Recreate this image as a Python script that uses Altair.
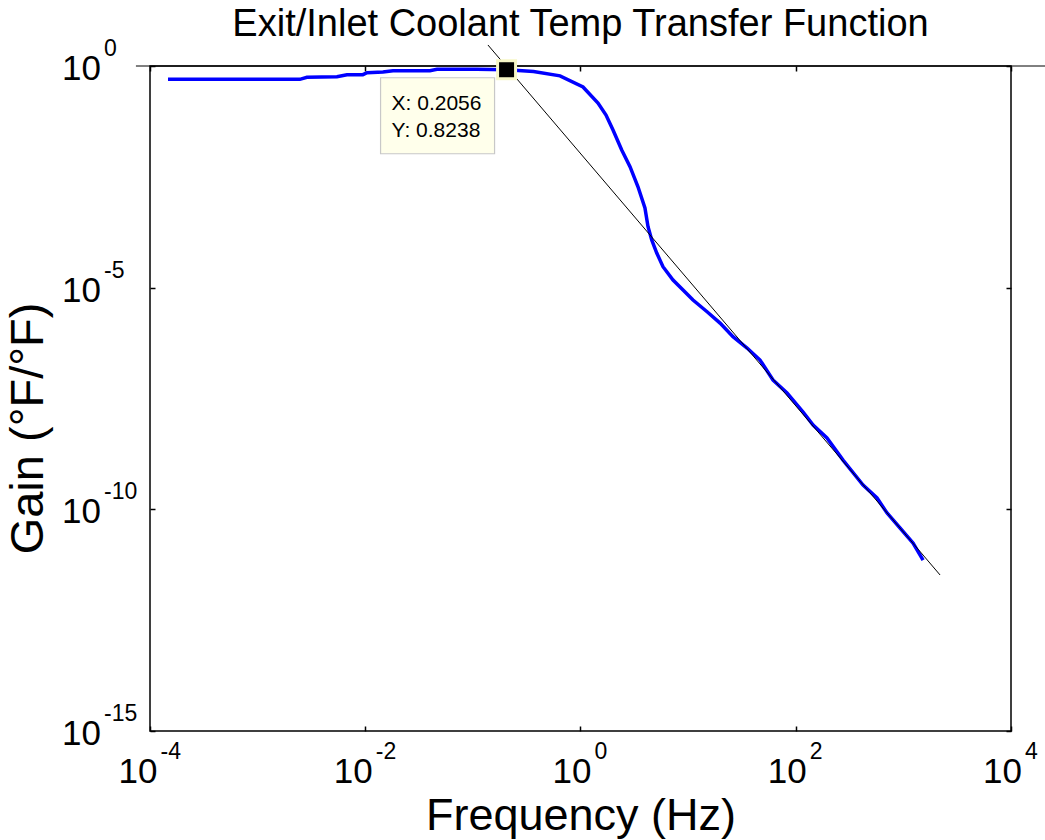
import altair as alt
import pandas as pd

# ---- data ----
freq_hz = [1.47e-4, 2.47e-3, 2.87e-3, 5.46e-3, 6.76e-3, 9.5e-3, 1.04e-2, 1.46e-2,
           1.81e-2, 3.99e-2, 4.64e-2, 0.109, 0.2056, 0.244, 0.366, 0.645, 1.055,
           1.454, 1.726, 2.005, 2.415, 2.884, 3.42, 3.97, 4.24, 4.59, 5.11, 5.84,
           7.24, 8.97, 11.1, 15.0, 19.8, 26.1, 35.3, 46.6, 61.5, 83.0, 117.0,
           145.0, 195.0, 275.0, 422.0, 569.0, 705.0, 931.0, 1230.0, 1524.0]
gain = [0.50, 0.50, 0.556, 0.574, 0.637, 0.637, 0.706, 0.732, 0.783, 0.783, 0.842,
        0.842, 0.8238, 0.80, 0.75, 0.60, 0.336, 0.146, 0.0785, 0.036, 0.01274,
        5.35e-3, 1.89e-3, 6.26e-4, 2.37e-4, 1.19e-4, 6.05e-5, 2.97e-5, 1.49e-5,
        8.85e-6, 5.26e-6, 2.86e-6, 1.59e-6, 7.82e-7, 4.35e-7, 2.33e-7, 8.26e-8,
        4.20e-8, 1.57e-8, 7.97e-9, 4.06e-9, 1.29e-9, 3.53e-10, 1.80e-10, 8.26e-11,
        3.79e-11, 1.74e-11, 7.18e-12]

asym_freq = [0.138, 2193.0]
asym_gain = [2.98, 3.3e-12]

unity_freq = [7.4e-5, 2.2e4]
unity_gain = [1.0, 1.0]

tip_x = [0.2056]
tip_y = [0.8238]
tip_text = ["X: 0.2056\nY: 0.8238"]

x_tick_values = [1e-4, 1e-2, 1e0, 1e2, 1e4]
x_tick_exps = ["-4", "-2", "0", "2", "4"]
y_tick_values = [1e0, 1e-5, 1e-10, 1e-15]
y_tick_exps = ["0", "-5", "-10", "-15"]

title_text = "Exit/Inlet Coolant Temp Transfer Function"
x_title = "Frequency (Hz)"
y_title = "Gain (°F/°F)"

# ---- tables ----
curve_df = pd.DataFrame({"f": freq_hz, "g": gain, "i": range(len(freq_hz))})
asym_df = pd.DataFrame({"f": asym_freq, "g": asym_gain})
unity_df = pd.DataFrame({"f": unity_freq, "g": unity_gain})
tip_df = pd.DataFrame({"f": tip_x, "g": tip_y, "t": tip_text})
xt_df = pd.DataFrame({"v": x_tick_values, "e": x_tick_exps, "b": ["10"] * len(x_tick_values)})
yt_df = pd.DataFrame({"v": y_tick_values, "e": y_tick_exps, "b": ["10"] * len(y_tick_values)})
title_df = pd.DataFrame({"t": [title_text]})

W, H = 861, 665
FONT = "Liberation Sans"

xscale = alt.Scale(type="log", domain=[1e-4, 1e4], nice=False)
yscale = alt.Scale(type="log", domain=[1e-15, 1e0], nice=False)

tick_axis = dict(labels=False, domain=False, grid=False, tickSize=5, offset=-5,
                 tickColor="black", tickWidth=1.5)

x_bottom = alt.Axis(orient="bottom", values=x_tick_values, title=x_title,
                    titleFont=FONT, titleFontSize=45, titleFontWeight="normal",
                    titleX=W / 2, titleY=103, titleBaseline="alphabetic",
                    titleAlign="center", titleColor="black", **tick_axis)
y_left = alt.Axis(orient="left", values=y_tick_values, title=y_title,
                  titleFont=FONT, titleFontSize=47, titleFontWeight="normal",
                  titleX=-113, titleY=362, titleAngle=270,
                  titleBaseline="alphabetic", titleAlign="center",
                  titleColor="black", **tick_axis)
x_top = alt.Axis(orient="top", values=x_tick_values, title=None, **tick_axis)
y_right = alt.Axis(orient="right", values=y_tick_values, title=None, **tick_axis)

curve = alt.Chart(curve_df).mark_line(color="#0000FF", strokeWidth=3.5).encode(
    x=alt.X("f:Q", scale=xscale, axis=x_bottom),
    y=alt.Y("g:Q", scale=yscale, axis=y_left),
    order="i:Q",
)

unity = alt.Chart(unity_df).mark_line(color="black", strokeWidth=1).encode(
    x=alt.X("f:Q", scale=xscale, axis=x_top),
    y=alt.Y("g:Q", scale=yscale, axis=y_right),
)

asym = alt.Chart(asym_df).mark_line(color="black", strokeWidth=1).encode(
    x=alt.X("f:Q", scale=xscale, axis=None),
    y=alt.Y("g:Q", scale=yscale, axis=None),
)

tipbase = alt.Chart(tip_df).encode(
    x=alt.X("f:Q", scale=xscale, axis=None),
    y=alt.Y("g:Q", scale=yscale, axis=None),
)
tip_box = tipbase.mark_rect(fill="#FFFFEB", stroke="#C8C8C8", strokeWidth=1.2,
                            xOffset=-126, x2Offset=-12, yOffset=8, y2Offset=84).encode(
    x2="f:Q", y2="g:Q")
tip_label = tipbase.mark_text(font=FONT, fontSize=21, align="left", baseline="alphabetic",
                              dx=-115, dy=40, lineBreak="\n", lineHeight=27,
                              color="black").encode(text="t:N")
halo = tipbase.mark_square(size=440, color="#F7F7C8", opacity=1)
marker = tipbase.mark_square(size=225, color="black", opacity=1)

# tick labels: "10" plus superscript exponent
xl_base = alt.Chart(xt_df).encode(x=alt.X("v:Q", scale=xscale, axis=None), y=alt.value(H))
x_neg = "datum.v < 1"
x_pos = "datum.v >= 1"
xl_10_neg = xl_base.transform_filter(x_neg).mark_text(
    font=FONT, fontSize=35, align="right", baseline="alphabetic", dx=7.5, dy=52,
    color="black").encode(text="b:N")
xl_e_neg = xl_base.transform_filter(x_neg).mark_text(
    font=FONT, fontSize=23, align="left", baseline="alphabetic", dx=10.5, dy=28,
    color="black").encode(text="e:N")
xl_10_pos = xl_base.transform_filter(x_pos).mark_text(
    font=FONT, fontSize=35, align="right", baseline="alphabetic", dx=11, dy=52,
    color="black").encode(text="b:N")
xl_e_pos = xl_base.transform_filter(x_pos).mark_text(
    font=FONT, fontSize=23, align="left", baseline="alphabetic", dx=14, dy=28,
    color="black").encode(text="e:N")

yl_base = alt.Chart(yt_df).encode(y=alt.Y("v:Q", scale=yscale, axis=None), x=alt.value(0))
yl_10 = yl_base.mark_text(font=FONT, fontSize=35, align="right", baseline="alphabetic",
                          dx=-49, dy=14, color="black").encode(text="b:N")
yl_e = yl_base.mark_text(font=FONT, fontSize=23, align="left", baseline="alphabetic",
                         dx=-46, dy=-10, color="black").encode(text="e:N")

title_mark = alt.Chart(title_df).mark_text(
    font=FONT, fontSize=38, align="center", baseline="alphabetic", color="black"
).encode(text="t:N", x=alt.value(W / 2), y=alt.value(-30))

chart = alt.layer(
    curve, unity, asym, tip_box, tip_label, halo, marker,
    xl_10_neg, xl_e_neg, xl_10_pos, xl_e_pos, yl_10, yl_e, title_mark,
).resolve_axis(x="independent", y="independent").properties(
    width=W, height=H,
    padding={"left": 150, "top": 66, "right": 34, "bottom": 109},
    autosize=alt.AutoSizeParams(type="none"),
    background="white",
).configure_view(stroke="black", strokeWidth=1.5)

chart.save("out.html", embed_options={"renderer": "svg", "actions": False})
